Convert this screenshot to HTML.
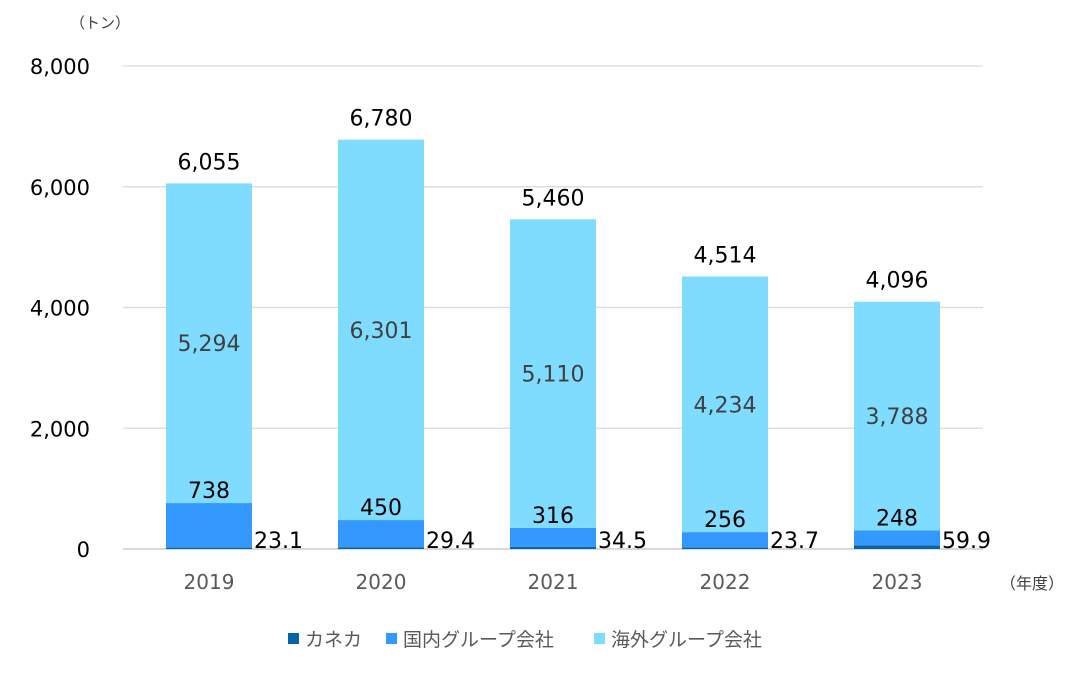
<!DOCTYPE html>
<html><head><meta charset="utf-8"><style>
body{margin:0;background:#fff;}
svg text{font-family:"DejaVu Sans","Liberation Sans","Noto Sans CJK JP",sans-serif;}
</style></head><body>
<svg width="1084" height="675" viewBox="0 0 1084 675" xmlns="http://www.w3.org/2000/svg">
<g id="grid"></g><g id="bars"></g><g id="labels"></g>
<text x="70" y="28" font-size="15" fill="#404040" font-family="Liberation Sans, Noto Sans CJK JP, sans-serif">（トン）</text>
<text x="1000" y="589" font-size="16" fill="#404040">（年度）</text>
<g>
<rect x="288" y="633" width="11" height="11" fill="#0563a8"/>
<text x="305" y="646" font-size="19" fill="#595959">カネカ</text>
<rect x="386" y="633" width="11" height="11" fill="#3399ff"/>
<text x="403" y="646" font-size="19" fill="#595959">国内グループ会社</text>
<rect x="594" y="633" width="11" height="11" fill="#7fdcfe"/>
<text x="611" y="646" font-size="19" fill="#595959">海外グループ会社</text>
</g>
</svg>
<script>
const categories=["2019","2020","2021","2022","2023"];
const kaneka=[23.1,29.4,34.5,23.7,59.9];
const domestic=[738,450,316,256,248];
const overseas=[5294,6301,5110,4234,3788];
const totals=[6055,6780,5460,4514,4096];
const yTicks=[0,2000,4000,6000,8000];
const NS="http://www.w3.org/2000/svg";
const x0=123,x1=983,yb=549,yt=66,ymax=8000;
const band=(x1-x0)/categories.length,bw=86;
const y=v=>yb-(v/ymax)*(yb-yt);
const xc=i=>x0+band*(i+0.5);
const fmt=v=>v.toLocaleString('en-US');
function mk(tag,attrs,parent){const e=document.createElementNS(NS,tag);for(const k in attrs)e.setAttribute(k,attrs[k]);document.getElementById(parent).appendChild(e);return e;}
yTicks.forEach(t=>{
  const l=mk('line',{x1:x0,x2:x1,y1:y(t),y2:y(t),stroke:'#d9d9d9','stroke-width':t===0?2:1.3},'grid');
  
  
  const tx=mk('text',{x:90,y:y(t)+8,'font-size':21,'text-anchor':'end',fill:'#000'},'grid');
  tx.textContent=fmt(t);
  
  
});
categories.forEach((c,i)=>{
  const cx=xc(i),bx=cx-bw/2;
  const k=kaneka[i],d=domestic[i],o=overseas[i];
  const r1=mk('rect',{x:bx,width:bw,y:y(k),height:yb-y(k),fill:'#0563a8'},'bars');
  
  
  const r2=mk('rect',{x:bx,width:bw,y:y(k+d),height:y(k)-y(k+d),fill:'#3399ff'},'bars');
  
  
  const r3=mk('rect',{x:bx,width:bw,y:y(k+d+o),height:y(k+d)-y(k+d+o),fill:'#7fdcfe'},'bars');
  
  
  const t1=mk('text',{x:cx,y:y(k+d+o)-14,'font-size':22,'text-anchor':'middle',fill:'#000'},'labels');
  t1.textContent=fmt(totals[i]);
  
  
  const t2=mk('text',{x:cx,y:(y(k+d)+y(k+d+o))/2+8,'font-size':22,'text-anchor':'middle',fill:'#404040'},'labels');
  t2.textContent=fmt(o);
  
  
  const t3=mk('text',{x:cx,y:y(k+d)-5,'font-size':22,'text-anchor':'middle',fill:'#000'},'labels');
  t3.textContent=fmt(d);
  
  
  const t4=mk('text',{x:bx+bw+2,y:yb-1,'font-size':22,fill:'#000'},'labels');
  t4.textContent=k.toFixed(1);
  
  
  const t5=mk('text',{x:cx,y:589,'font-size':20,'text-anchor':'middle',fill:'#595959'},'labels');
  t5.textContent=c;
  
  
});
</script>
</body></html>
